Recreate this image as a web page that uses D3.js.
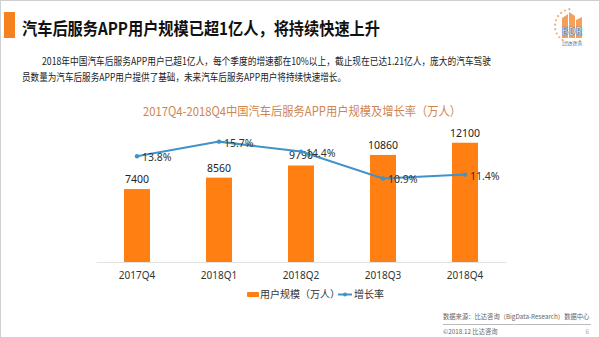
<!DOCTYPE html>
<html>
<head>
<meta charset="utf-8">
<script src="https://cdn.jsdelivr.net/npm/d3@7"></script>
<style>
  body { margin: 0; background: #fff; }
  svg { display: block; font-family: "Noto Sans CJK SC", "Noto Sans", sans-serif; }
</style>
</head>
<body>
<div id="chart"></div>
<script>
const quarters = ["2017Q4", "2018Q1", "2018Q2", "2018Q3", "2018Q4"]
const users = [7400, 8560, 9790, 10860, 12100]
const growth = [13.8, 15.7, 14.4, 10.9, 11.4]

const width = 600
const height = 338

const svg = d3.select("#chart")
  .append("svg")
  .attr("width", width)
  .attr("height", height)

// frame of the slide
svg.append("rect")
  .attr("x", 0.5).attr("y", 0.5)
  .attr("width", width - 1).attr("height", height - 1)
  .attr("fill", "none").attr("stroke", "#d0d0d0")

// header
svg.append("rect")
  .attr("x", 4).attr("y", 12).attr("width", 11).attr("height", 26)
  .attr("fill", "#f5821f")

svg.append("text")
  .attr("x", 22).attr("y", 35)
  .attr("font-size", 17).attr("font-weight", "bold").attr("fill", "#111")
  .attr("textLength", 358).attr("lengthAdjust", "spacingAndGlyphs")
  .text("汽车后服务APP用户规模已超1亿人，将持续快速上升")

const intro = svg.append("g").attr("font-size", 10.5).attr("fill", "#222")
intro.append("text").attr("x", 42).attr("y", 65)
  .attr("textLength", 449).attr("lengthAdjust", "spacingAndGlyphs")
  .text("2018年中国汽车后服务APP用户已超1亿人，每个季度的增速都在10%以上，截止现在已达1.21亿人，庞大的汽车驾驶")
intro.append("text").attr("x", 22).attr("y", 81)
  .attr("textLength", 324).attr("lengthAdjust", "spacingAndGlyphs")
  .text("员数量为汽车后服务APP用户提供了基础，未来汽车后服务APP用户将持续快速增长。")

// logo
const logo = svg.append("g")
d3.range(14).forEach(i => {
  const a = Math.PI * (0.55 + i * 0.085)
  logo.append("circle")
    .attr("cx", 572 + 17 * Math.cos(a)).attr("cy", 26 - 17 * Math.sin(a))
    .attr("r", 1.1).attr("fill", "#f0b070")
})
logo.append("path")
  .attr("d", "M562,38 L562,18 L568,14 L568,38 Z M569,38 L569,12 L575,16 L575,38 Z M576,38 L576,20 L582,17 L582,38 Z")
  .attr("fill", "#f5a05a")
logo.append("text").attr("x", 572).attr("y", 35).attr("text-anchor", "middle")
  .attr("font-size", 10).attr("font-weight", "bold").attr("fill", "#fff")
  .attr("stroke", "#3a7fc0").attr("stroke-width", 0.6)
  .text("BDR")
logo.append("text").attr("x", 572).attr("y", 45).attr("text-anchor", "middle")
  .attr("font-size", 5).attr("fill", "#3a7fc0").text("比达咨询")

// chart title
svg.append("text")
  .attr("x", 302).attr("y", 116).attr("text-anchor", "middle")
  .attr("font-size", 12.5).attr("fill", "#cf8550")
  .attr("textLength", 318).attr("lengthAdjust", "spacingAndGlyphs")
  .text("2017Q4-2018Q4中国汽车后服务APP用户规模及增长率（万人）")

// scales
const x = d3.scaleBand().domain(quarters).range([96, 506])
const y = d3.scaleLinear().domain([0, 14000]).range([262, 124])
const yRate = d3.scaleLinear().domain([0, 18]).range([262, 124])
const barW = 26

svg.append("g")
  .attr("transform", "translate(0,262)")
  .call(d3.axisBottom(x).tickSize(0).tickPadding(10))
  .call(g => g.select(".domain").attr("stroke", "#e2e2e2"))
  .call(g => g.selectAll("text").attr("font-size", 10).attr("fill", "#333")
    .attr("font-family", "'Noto Sans', sans-serif"))

const data = quarters.map((q, i) => ({q, users: users[i], growth: growth[i]}))

svg.append("g").selectAll("rect")
  .data(data)
  .join("rect")
  .attr("x", d => x(d.q) + x.bandwidth() / 2 - barW / 2)
  .attr("y", d => y(d.users))
  .attr("width", barW)
  .attr("height", d => y(0) - y(d.users))
  .attr("fill", "#ff7f12")

svg.append("g").selectAll("text")
  .data(data)
  .join("text")
  .attr("x", d => x(d.q) + x.bandwidth() / 2)
  .attr("y", d => y(d.users) - 6)
  .attr("text-anchor", "middle")
  .attr("font-size", 10.5).attr("fill", "#222")
  .attr("font-family", "'Noto Sans', sans-serif")
  .text(d => d.users)

const line = d3.line()
  .x(d => x(d.q) + x.bandwidth() / 2)
  .y(d => yRate(d.growth))

svg.append("path")
  .datum(data)
  .attr("d", line)
  .attr("fill", "none")
  .attr("stroke", "#3f93c9")
  .attr("stroke-width", 2)

svg.append("g").selectAll("circle")
  .data(data)
  .join("circle")
  .attr("cx", d => x(d.q) + x.bandwidth() / 2)
  .attr("cy", d => yRate(d.growth))
  .attr("r", 2.2)
  .attr("fill", "#3f93c9")

svg.append("g").selectAll("text")
  .data(data)
  .join("text")
  .attr("x", d => x(d.q) + x.bandwidth() / 2 + 5)
  .attr("y", d => yRate(d.growth) + 5)
  .attr("font-size", 10.5).attr("fill", "#333")
  .attr("font-family", "'Noto Sans', sans-serif")
  .text(d => d.growth.toFixed(1) + "%")

// legend
const legend = svg.append("g").attr("font-size", 10).attr("fill", "#333")
legend.append("rect").attr("x", 247).attr("y", 292).attr("width", 12).attr("height", 5)
  .attr("rx", 1).attr("fill", "#ff7f12")
legend.append("text").attr("x", 260).attr("y", 298).text("用户规模（万人）")
legend.append("line").attr("x1", 338).attr("x2", 352).attr("y1", 294.5).attr("y2", 294.5)
  .attr("stroke", "#3f93c9").attr("stroke-width", 2)
legend.append("circle").attr("cx", 345).attr("cy", 294.5).attr("r", 2).attr("fill", "#3f93c9")
legend.append("text").attr("x", 354).attr("y", 298).text("增长率")

// footer
const foot = svg.append("g").attr("font-size", 6.3).attr("fill", "#666")
foot.append("text").attr("x", 443).attr("y", 319)
  .text("数据来源：比达咨询（BigData-Research）数据中心")
foot.append("line").attr("x1", 443).attr("x2", 591).attr("y1", 324.5).attr("y2", 324.5)
  .attr("stroke", "#aaa").attr("stroke-width", 0.8)
foot.append("text").attr("x", 443).attr("y", 334).text("©2018.12 比达咨询")
foot.append("text").attr("x", 589).attr("y", 334).attr("text-anchor", "end").attr("fill", "#aaa").text("6")
</script>
</body>
</html>
